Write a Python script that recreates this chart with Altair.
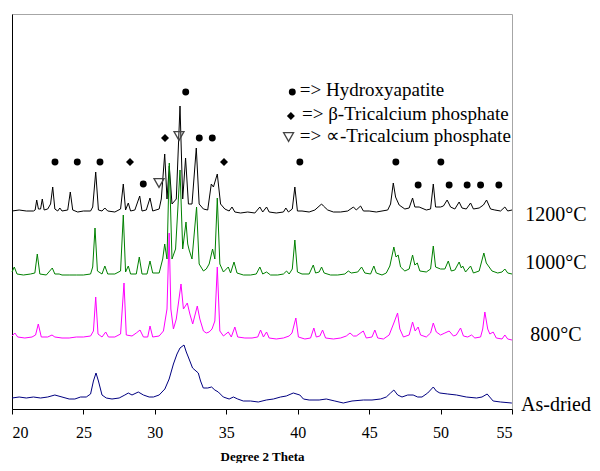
import altair as alt
import pandas as pd

# ---- data (2-theta in degrees, stacked intensity in arbitrary units) ----
series_names = ["1200°C", "1000°C", "800°C", "As-dried"]
series_colors = ["#000000", "#008000", "#FF00FF", "#000080"]

pts_1200 = [(20.0,198),(20.5,199),(21.0,198),(21.5,198),(21.62,199),(21.73,209),(21.85,200),(22.0,200),
    (22.12,210),(22.25,199),(22.5,200),(22.7,205),(22.85,222),(23.0,200),(23.2,198),(23.35,201),(23.5,198),
    (23.9,199),(24.08,217),(24.25,199),(24.6,197),(25.0,198),(25.5,198),(25.65,202),(25.86,237),(26.05,199),
    (26.3,198),(26.5,201),(26.7,198),(27.2,197),(27.6,200),(27.79,225),(27.95,199),(28.14,206),(28.3,198),
    (28.6,199),(28.94,213),(29.1,198),(29.4,199),(29.66,211),(29.85,198),(30.3,200),(30.45,210),(30.69,255),
    (30.85,210),(31.01,243),(31.2,205),(31.5,210),(31.76,303),(31.95,210),(32.15,251),(32.35,205),(32.6,205),
    (32.9,261),(33.1,205),(33.4,200),(33.7,199),(33.95,225),(34.1,222),(34.37,235),(34.6,205),(34.9,200),
    (35.2,198),(35.4,202),(35.6,197),(36.0,196),(36.5,197),(37.0,196),(37.35,202),(37.55,197),(37.82,202),
    (38.0,197),(38.5,196),(39.0,197),(39.17,201),(39.35,197),(39.62,200),(39.8,222),(39.98,198),(40.3,198),
    (40.8,197),(41.2,199),(41.67,205),(41.8,203),(42.1,199),(42.5,197),(43.0,197),(43.5,198),(43.9,202),
    (44.1,199),(44.4,203),(44.6,198),(45.0,198),(45.5,197),(45.9,198),(46.3,199),(46.5,205),(46.69,226),
    (46.85,212),(47.1,204),(47.5,200),(47.8,201),(48.04,211),(48.2,202),(48.5,202),(49.0,199),(49.3,200),
    (49.49,225),(49.65,202),(50.0,202),(50.2,203),(50.46,209),(50.7,202),(51.0,200),(51.3,207),(51.5,201),
    (51.8,200),(52.1,206),(52.3,200),(52.7,201),(53.0,204),(53.22,209),(53.5,200),(53.8,199),(54.2,198),
    (54.5,202),(54.7,198),(55.0,199)]

pts_1000 = [(20.0,137),(20.16,142),(20.35,135),(20.8,134),(21.3,135),(21.6,136),(21.77,155),(21.95,135),
    (22.4,134),(22.82,141),(23.0,135),(23.3,135),(23.5,134),(24.0,134),(24.5,134),(25.0,134),(25.5,135),
    (25.65,142),(25.81,181),(25.98,138),(26.3,135),(26.5,143),(26.7,135),(27.2,135),(27.6,138),(27.79,194),
    (27.95,137),(28.14,143),(28.3,135),(28.7,135),(28.91,152),(29.1,135),(29.45,135),(29.66,148),(29.85,136),
    (30.3,136),(30.55,150),(30.69,165),(30.85,150),(31.01,246),(31.2,150),(31.45,160),(31.76,239),(31.95,160),
    (32.18,187),(32.3,165),(32.4,159),(32.6,150),(32.92,202),(33.1,145),(33.4,138),(33.6,140),(33.8,145),
    (34.04,160),(34.2,150),(34.37,211),(34.55,145),(34.8,137),(35.14,142),(35.3,136),(35.54,147),(35.75,136),
    (36.2,134),(36.7,134),(37.1,135),(37.35,142),(37.55,135),(37.82,137),(38.1,134),(38.6,134),(39.0,135),
    (39.22,138),(39.4,135),(39.62,140),(39.8,169),(39.98,137),(40.3,135),(40.8,135),(41.09,144),(41.25,136),
    (41.5,137),(41.67,142),(41.85,136),(42.3,134),(42.8,134),(43.3,135),(43.54,138),(43.75,136),(44.2,137),
    (44.47,142),(44.7,136),(45.1,135),(45.33,143),(45.5,136),(45.9,134),(46.2,136),(46.45,143),(46.73,162),
    (46.88,152),(47.03,154),(47.2,142),(47.5,138),(47.8,140),(48.04,154),(48.2,144),(48.37,146),(48.55,138),
    (49.0,137),(49.3,140),(49.49,163),(49.65,142),(50.0,140),(50.3,140),(50.54,148),(50.75,138),(51.0,139),
    (51.3,147),(51.45,141),(51.55,143),(51.75,137),(52.1,143),(52.3,136),(52.7,138),(53.03,156),(53.2,146),
    (53.3,144),(53.6,138),(54.0,136),(54.3,137),(54.5,140),(54.7,136),(55.0,135)]

pts_800 = [(20.0,73),(20.2,76),(20.4,72),(20.9,71),(21.4,72),(21.65,74),(21.84,85),(22.05,72),(22.5,72),
    (22.8,74),(23.0,72),(23.5,71),(24.0,71),(24.5,72),(25.0,72),(25.5,73),(25.7,78),(25.86,112),(26.02,75),
    (26.3,72),(26.56,77),(26.75,72),(27.2,72),(27.6,75),(27.84,126),(28.0,74),(28.4,73),(28.7,76),(28.96,79),
    (29.2,72),(29.5,72),(29.66,83),(29.85,72),(30.3,73),(30.6,78),(30.85,100),(31.0,176),(31.12,100),(31.3,80),
    (31.5,90),(31.83,125),(32.0,100),(32.27,106),(32.45,95),(32.65,85),(32.97,103),(33.15,90),(33.4,78),
    (33.6,76),(33.8,77),(34.0,80),(34.2,88),(34.37,142),(34.55,78),(34.8,73),(35.14,77),(35.35,72),(35.6,82),
    (35.8,72),(36.3,71),(36.8,71),(37.2,72),(37.4,79),(37.6,72),(37.82,77),(38.0,71),(38.5,70),(39.0,71),
    (39.4,73),(39.6,76),(39.87,91),(40.05,72),(40.5,70),(40.9,71),(41.13,81),(41.3,72),(41.55,73),(41.74,79),
    (41.95,71),(42.5,70),(43.0,71),(43.4,73),(43.66,76),(43.9,73),(44.1,73),(44.59,78),(44.8,71),(45.2,72),
    (45.4,79),(45.6,71),(46.0,70),(46.4,74),(46.73,86),(46.99,96),(47.15,80),(47.4,72),(47.8,74),(48.04,87),
    (48.22,78),(48.43,82),(48.6,74),(49.0,72),(49.3,76),(49.49,86),(49.7,77),(50.0,74),(50.3,76),(50.6,78),
    (50.9,73),(51.1,74),(51.4,81),(51.6,73),(51.9,72),(52.17,74),(52.4,71),(52.8,72),(52.95,80),(53.1,97),
    (53.3,80),(53.45,75),(53.68,77),(53.9,71),(54.3,70),(54.5,74),(54.7,70),(55.0,69)]

pts_dried = [(20.0,11),(20.5,12),(21.0,11),(21.5,12),(22.0,11),(22.5,12),(23.0,14),(23.5,12),(24.0,10),
    (24.4,10),(24.8,12),(25.2,12),(25.5,15),(25.7,28),(25.88,36),(26.05,28),(26.3,14),(26.6,11),(27.0,10),
    (27.5,11),(27.9,14),(28.14,16),(28.4,14),(28.84,17),(29.2,14),(29.6,12),(29.9,12),(30.3,14),(30.7,20),
    (31.0,30),(31.3,45),(31.55,55),(31.76,61),(32.04,64),(32.2,57),(32.34,52),(32.64,41),(33.04,36),(33.2,28),
    (33.39,21),(33.7,21),(33.97,22),(34.2,19),(34.44,17),(34.79,12),(35.2,10),(35.5,12),(35.8,10),(36.19,8),
    (36.7,8),(37.24,7),(37.8,9),(38.3,10),(38.8,12),(39.2,13),(39.69,16),(40.15,14),(40.4,10),(40.8,9),
    (41.5,9),(42.0,10),(42.6,8),(43.19,6),(43.8,8),(44.6,9),(45.2,9),(45.8,10),(46.2,12),(46.5,16),(46.73,19),
    (47.0,14),(47.3,12),(47.7,14),(48.08,14),(48.4,12),(48.7,12),(49.1,16),(49.49,22),(49.7,18),(49.95,16),
    (50.5,15),(51.12,14),(51.8,12),(52.52,11),(52.9,12),(53.26,15),(53.5,11),(53.68,8),(54.2,7),(54.97,6),
    (55.0,6)]

# right-hand trace labels (vertical level of each label)
label_levels = [194, 146, 74, 4]

# phase markers: 2-theta and vertical level
hap_x = [23.01, 24.57, 26.16, 29.19, 32.16, 33.11, 34.02, 40.15, 46.87, 50.02, 48.43, 50.6, 51.86, 52.80, 54.08]
hap_y = [247, 247, 247, 225, 317, 271, 271, 247, 247, 247, 224, 224, 224, 224, 224]
btcp_x = [28.26, 30.71, 34.84]
btcp_y = [247, 271, 247]
atcp_x = [30.29, 31.69]
atcp_y = [226, 273]

# in-plot key
key_text = ["=> Hydroxyapatite", "=> β-Tricalcium phosphate", "=> ∝-Tricalcium phosphate"]
key_sym_x = [39.62, 39.52, 39.36]
key_sym_y = [317, 293, 272]
key_text_x = [40.15, 40.3, 40.15]
key_text_y = [319, 295, 273]

FONT = "Liberation Serif"

rows = []
for name, pts in zip(series_names, [pts_1200, pts_1000, pts_800, pts_dried]):
    for i, (x, y) in enumerate(pts):
        rows.append({"series": name, "x": x, "y": y, "i": i})
df = pd.DataFrame(rows)

xs = alt.Scale(domain=[20, 55], nice=False)
ys = alt.Scale(domain=[0, 395], nice=False)

lines = alt.Chart(df).mark_line(strokeWidth=1).encode(
    x=alt.X("x:Q", scale=xs, axis=alt.Axis(
        title="Degree 2 Theta", values=[20, 25, 30, 35, 40, 45, 50, 55], format="d",
        grid=False, domainColor="#000000", tickColor="#000000", tickSize=5,
        labelFont=FONT, labelFontSize=16, labelColor="#000000", labelPadding=10,
        titleFont=FONT, titleFontSize=13, titleFontWeight="bold", titleColor="#000000",
        titleX=250, titleY=51, titleBaseline="alphabetic", titleAlign="center")),
    y=alt.Y("y:Q", scale=ys, axis=alt.Axis(
        title=None, labels=False, ticks=False, grid=False, domainColor="#000000")),
    color=alt.Color("series:N", scale=alt.Scale(domain=series_names, range=series_colors), legend=None),
    order="i:Q",
)

lab_df = pd.DataFrame({"series": series_names, "y": label_levels, "x": [55] * 4})
labels = alt.Chart(lab_df).mark_text(
    font=FONT, fontSize=20, align="center", baseline="middle", dx=44, color="#000000"
).encode(x=alt.X("x:Q", scale=xs), y=alt.Y("y:Q", scale=ys), text="series:N")

hap = alt.Chart(pd.DataFrame({"x": hap_x, "y": hap_y})).mark_point(
    shape="circle", filled=True, color="#000000", size=48, opacity=1
).encode(x=alt.X("x:Q", scale=xs), y=alt.Y("y:Q", scale=ys))

btcp = alt.Chart(pd.DataFrame({"x": btcp_x, "y": btcp_y})).mark_point(
    shape="diamond", filled=True, color="#000000", size=64, opacity=1
).encode(x=alt.X("x:Q", scale=xs), y=alt.Y("y:Q", scale=ys))

atcp = alt.Chart(pd.DataFrame({"x": atcp_x, "y": atcp_y})).mark_point(
    shape="triangle-down", filled=False, color="#444444", size=100, strokeWidth=1.3, opacity=1
).encode(x=alt.X("x:Q", scale=xs), y=alt.Y("y:Q", scale=ys))

key_sym_df = pd.DataFrame({"x": key_sym_x, "y": key_sym_y})
key_circle = alt.Chart(key_sym_df.iloc[[0]]).mark_point(
    shape="circle", filled=True, color="#000000", size=48, opacity=1
).encode(x=alt.X("x:Q", scale=xs), y=alt.Y("y:Q", scale=ys))
key_diamond = alt.Chart(key_sym_df.iloc[[1]]).mark_point(
    shape="diamond", filled=True, color="#000000", size=64, opacity=1
).encode(x=alt.X("x:Q", scale=xs), y=alt.Y("y:Q", scale=ys))
key_tri = alt.Chart(key_sym_df.iloc[[2]]).mark_point(
    shape="triangle-down", filled=False, color="#444444", size=100, strokeWidth=1.3, opacity=1
).encode(x=alt.X("x:Q", scale=xs), y=alt.Y("y:Q", scale=ys))

key_txt = alt.Chart(pd.DataFrame({"x": key_text_x, "y": key_text_y, "t": key_text})).mark_text(
    font=FONT, fontSize=19, align="left", baseline="middle", color="#000000"
).encode(x=alt.X("x:Q", scale=xs), y=alt.Y("y:Q", scale=ys), text="t:N")

chart = alt.layer(lines, labels, hap, btcp, atcp, key_circle, key_diamond, key_tri, key_txt).properties(
    width=500, height=395,
    autosize=alt.AutoSizeParams(type="none"),
    padding={"left": 4, "top": 6, "right": 80, "bottom": 54},
    background="#ffffff",
).configure_view(stroke="#A6A6A6", strokeWidth=1)

chart.save("out.html", embed_options={"renderer": "svg", "actions": False})
